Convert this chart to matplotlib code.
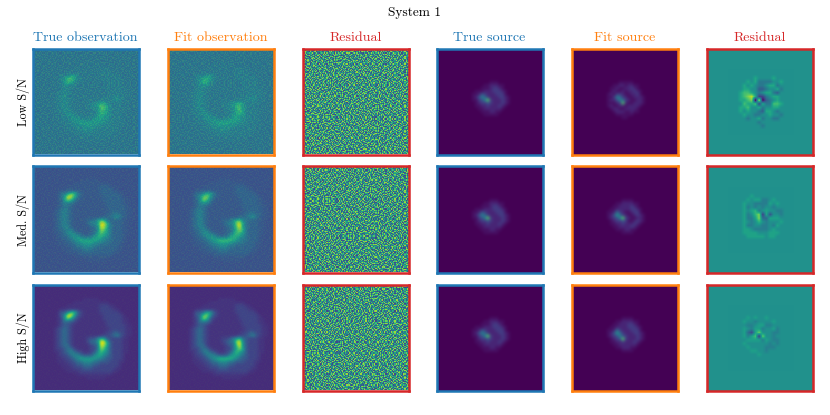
import numpy as np
import matplotlib
matplotlib.use('Agg')
import matplotlib.pyplot as plt
from matplotlib.colors import ListedColormap, PowerNorm

plt.rcParams['font.family'] = ['cmr10', 'DejaVu Serif']
plt.rcParams['axes.formatter.use_mathtext'] = True

COL_TITLES = ['True observation', 'Fit observation', 'Residual', 'True source', 'Fit source', 'Residual']
COL_COLORS = ['tab:blue', 'tab:orange', 'tab:red', 'tab:blue', 'tab:orange', 'tab:red']
ROW_LABELS = ['Low S/N', 'Med. S/N', 'High S/N']

# hand estimated brightness levels, 0-9 (coarse grid over whole panel)
OBS_TRUE = ['00000000000000000000000000000000',
            '00000000000000000000000000000000',
            '00000000000000000000000000000000',
            '00000000000000000000000000000000',
            '00000000000000011111000000000000',
            '00000000000011111111111000000000',
            '00000000001111111111222110000000',
            '00000000111111111111222211000000',
            '00000001335774211111222222100000',
            '00000001359963211111122222210000',
            '00000001258642111111122222211000',
            '00000001243321111111112222211000',
            '00000001233211111111112222221100',
            '00000012343211111111111222221100',
            '00000012343211111111112233221100',
            '00000012343211111111122345321100',
            '00000012343211112335763222211000',
            '00000012343211112445996322211000',
            '00000012344211111234986322211000',
            '00000012234421111224875322211000',
            '00000011234543211235765322211000',
            '00000001223455433356654322210000',
            '00000001122345666665543322210000',
            '00000001112234455544333222110000',
            '00000000111223344433222222100000',
            '00000000011122233322222221100000',
            '00000000001111222222222211000000',
            '00000000000001111111111100000000',
            '00000000000000001111110000000000',
            '00000000000000000000000000000000',
            '00000000000000000000000000000000',
            '00000000000000000000000000000000']
OBS_FIT = ['00000000000000000000000000000000',
           '00000000000000000000000000000000',
           '00000000000000000000000000000000',
           '00000000000000000000000000000000',
           '00000000000000011111000000000000',
           '00000000000011111111111000000000',
           '00000000001111111111222110000000',
           '00000000111111111111222211000000',
           '00000001334664211111222222100000',
           '00000001347863211111122222210000',
           '00000001248742111111122222211000',
           '00000001244431111111112222211000',
           '00000001233211111111112222221100',
           '00000012343211111111111222221100',
           '00000012343211111111112233221100',
           '00000012343211111111122345321100',
           '00000012343211112235674322211000',
           '00000012343211112344895322211000',
           '00000012344211111234795322211000',
           '00000012234421111224686322211000',
           '00000011234543211235765322211000',
           '00000001223455433356654322210000',
           '00000001122345677776543322210000',
           '00000001112234455544333222110000',
           '00000000111223344433222222100000',
           '00000000011122233322222221100000',
           '00000000001111222222222211000000',
           '00000000000001111111111100000000',
           '00000000000000001111110000000000',
           '00000000000000000000000000000000',
           '00000000000000000000000000000000',
           '00000000000000000000000000000000']

# central part of the source panels only, the rest is flat background
SRC_TRUE = ['0000000000000000',
            '0000000011100000',
            '0000001122211000',
            '0000011123321000',
            '0001112223332100',
            '0011243222333100',
            '0012465322233210',
            '0011346932223210',
            '0001233432223210',
            '0001122322232100',
            '0000112222221000',
            '0000011122110000',
            '0000001111100000',
            '0000000000000000',
            '0000000000000000',
            '0000000000000000']
SRC_FIT_LOW = ['0000000000000000',
               '0000001111100000',
               '0000112212211000',
               '0001121122321000',
               '0001211212232100',
               '0012133211223100',
               '0011365321122210',
               '0012246532112210',
               '0011123921122210',
               '0012112212222100',
               '0001221122221000',
               '0000122211211000',
               '0000011111100000',
               '0000000110000000',
               '0000000000000000',
               '0000000000000000']
SRC_FIT_MED = ['0000000000000000',
               '0000000111100000',
               '0000011222211000',
               '0000112222321000',
               '0001122222332100',
               '0011253211233100',
               '0012475321123210',
               '0012346932112210',
               '0001233431123210',
               '0001122322232100',
               '0000112222321000',
               '0000011122110000',
               '0000000111100000',
               '0000000000000000',
               '0000000000000000',
               '0000000000000000']
SRC_FIT_HIGH = ['0000000000000000',
                '0000000111100000',
                '0000011222211000',
                '0000112223321000',
                '0001122223332100',
                '0011253222333100',
                '0012475322233210',
                '0012346432223210',
                '0001234932223210',
                '0001122322232100',
                '0000112222221000',
                '0000011222110000',
                '0000000111100000',
                '0000000000000000',
                '0000000000000000',
                '0000000000000000']

# source residual, 5 is zero
RES_LOW = ['555555555555555555',
           '555555555555555555',
           '555555565555655555',
           '555556564444556555',
           '555565654456645555',
           '555566553345564555',
           '555677654566435555',
           '555678962245665555',
           '555667809034565555',
           '555576672644776555',
           '555667556455665555',
           '555656554366545555',
           '555565544556554555',
           '555554556455445555',
           '555555554555555555',
           '555555555455555555',
           '555555555555555555',
           '555555555555555555']
RES_MED = ['555555555555555555',
           '555555555555555555',
           '555555655555555555',
           '555556566445655555',
           '555565544446565555',
           '555564545455455555',
           '555565674565544555',
           '555564579162554555',
           '555564469336665555',
           '555565457545556555',
           '555564455445465555',
           '555566544445655555',
           '555566665556665555',
           '555556666656655555',
           '555555555555555555',
           '555555555555555555',
           '555555555555555555',
           '555555555555555555']
RES_HIGH = ['555555555555555555',
            '555555555555555555',
            '555555555555555555',
            '555556565565555555',
            '555565545555655555',
            '555554456644555555',
            '555565466455645555',
            '555563169555445555',
            '555564680955455555',
            '555556666465445555',
            '555565555554545555',
            '555556555544455555',
            '555555665545555555',
            '555555556555555555',
            '555555555555555555',
            '555555555555555555',
            '555555555555555555',
            '555555555555555555']
RES_SOURCE = [RES_LOW, RES_MED, RES_HIGH]
RES_SPAN = [10, 13, 15]
SRC_FIT = [SRC_FIT_LOW, SRC_FIT_MED, SRC_FIT_HIGH]

# typed speckle patch standing in for the pixel noise
SPECKLE = ['73915208467132950684271593860427',
           '20684719352806147392058461739025',
           '95137064821593720468139570264813',
           '48260391757041896325740182693057',
           '16593827040738215964382701549638',
           '82047153969265037481596042817360',
           '37519680241849362705168397024591',
           '60823947517302581946270835196472',
           '14796035828596147030952641783209',
           '59302871640417293685814027395168',
           '87140623953960825174306918527043',
           '03658192747281630459167253908416',
           '92476308151804976332580741629357',
           '35810947626137492068943125076894',
           '71269584030625817954714803592160',
           '46093172584973026417625398140725',
           '08754316299146385072931640785231',
           '63128905472750914683208576913048',
           '29541730866392047518467021358697',
           '84607219351085673924159386720413',
           '17369542087426108935703249618570',
           '50928361741693857240386175029486',
           '76213408959208361475942816307152',
           '31486025793574910682157930468279',
           '95740168320861739254601387925016',
           '42057931684319280567378254019763',
           '68391257040756823091946015382874',
           '10825746931482057639182473650928',
           '57962083148903465127530869241736',
           '83176495202967148350416728590341',
           '26409513787350621984279036157602',
           '94738160526148093756805912374480']

IMG_LEFT = [33, 168, 303, 437, 572, 707]
IMG_TOP = [49, 167, 285]
IMG_SIZE = 105


def grid(rows):
    return np.array([[int(c) for c in r] for r in rows], dtype=float)


def speckle_panel(seq):
    # 3x3 patches, each turned/flipped differently so it doesn't look periodic
    tile = grid(SPECKLE)
    blocks = []
    for k, f in seq:
        b = np.rot90(tile, k)
        blocks.append(b[:, ::-1] if f else b)
    return np.block([blocks[:3], blocks[3:6], blocks[6:]])


def part_viridis(p0, p1):
    return ListedColormap(plt.get_cmap('viridis')(np.linspace(p0, p1, 256)))


SEQS = [[(0, 0), (1, 1), (2, 0), (3, 1), (1, 0), (0, 1), (2, 1), (3, 0), (0, 0)],
        [(1, 0), (2, 1), (0, 1), (3, 0), (0, 0), (2, 0), (1, 1), (3, 1), (2, 1)],
        [(2, 0), (0, 1), (3, 1), (1, 1), (3, 0), (0, 0), (1, 0), (2, 1), (3, 1)],
        [(3, 0), (2, 0), (1, 0), (0, 1), (2, 1), (1, 1), (3, 1), (0, 0), (2, 0)],
        [(0, 1), (3, 0), (1, 1), (2, 0), (0, 0), (3, 1), (1, 0), (2, 1), (0, 0)],
        [(1, 1), (0, 0), (3, 0), (2, 1), (1, 0), (3, 1), (0, 1), (2, 0), (1, 0)],
        [(2, 1), (1, 0), (0, 0), (3, 1), (2, 0), (0, 1), (1, 1), (3, 0), (2, 0)],
        [(3, 1), (0, 0), (2, 1), (1, 0), (3, 0), (2, 0), (0, 1), (1, 1), (3, 1)],
        [(0, 0), (2, 1), (1, 0), (3, 0), (0, 1), (1, 1), (2, 0), (3, 1), (0, 1)]]

# viridis position of level 0 and level 9 + speckle opacity, per row
OBS_RANGE = [(0.37, 0.76, 0.22), (0.24, 1.0, 0.11), (0.12, 1.0, 0.04)]
OBS_GAMMA = 1.6
SRC_GAMMA = 1.3
SRC_PEAK = 0.72

fig = plt.figure(figsize=(8.3, 4.15), dpi=100)


def add_panel(row, col):
    ax = fig.add_axes([(IMG_LEFT[col] - 0.5) / 830, 1 - (IMG_TOP[row] + IMG_SIZE + 0.5) / 415,
                       (IMG_SIZE + 1) / 830, (IMG_SIZE + 1) / 415])
    ax.set_xticks([])
    ax.set_yticks([])
    for s in ax.spines.values():
        s.set_color(COL_COLORS[col])
        s.set_linewidth(1.8)
    return ax


def fix_limits(ax):
    ax.set_xlim(0, 1)
    ax.set_ylim(1, 0)


full = (0, 1, 1, 0)
src_box = (0.28, 0.72, 0.72, 0.28)
res_box = (0.2, 0.82, 0.82, 0.2)
viridis = plt.get_cmap('viridis')
for i in range(3):
    p0, p1, a = OBS_RANGE[i]
    for j, img in enumerate([OBS_TRUE, OBS_FIT]):
        ax = add_panel(i, j)
        ax.imshow(grid(img), cmap=part_viridis(p0, p1), norm=PowerNorm(OBS_GAMMA, vmin=0, vmax=9), extent=full,
                  interpolation='bicubic', aspect='auto')
        ax.imshow(speckle_panel(SEQS[i * 2 + j]), cmap='viridis', vmin=-4, vmax=13, extent=full,
                  interpolation='nearest', alpha=a, aspect='auto')
        fix_limits(ax)
    ax = add_panel(i, 2)
    ax.imshow(speckle_panel(SEQS[6 + i]), cmap='viridis', vmin=-3, vmax=11, extent=full,
              interpolation='nearest', aspect='auto')
    fix_limits(ax)

    for j, img in zip([3, 4], [SRC_TRUE, SRC_FIT[i]]):
        ax = add_panel(i, j)
        ax.set_facecolor(viridis(0.0))
        ax.imshow(grid(img), cmap=part_viridis(0, SRC_PEAK), norm=PowerNorm(SRC_GAMMA, vmin=0, vmax=9), extent=src_box,
                  interpolation='bicubic', aspect='auto')
        fix_limits(ax)

    ax = add_panel(i, 5)
    ax.set_facecolor(viridis(0.5))
    ax.imshow(grid(RES_SOURCE[i]), cmap='viridis', vmin=5 - RES_SPAN[i] / 2, vmax=5 + RES_SPAN[i] / 2, extent=res_box,
              interpolation='bilinear', aspect='auto')
    fix_limits(ax)

    fig.text(23 / 830, 1 - (IMG_TOP[i] + IMG_SIZE / 2) / 415, ROW_LABELS[i], rotation=90,
             ha='center', va='center', fontsize=8.7)

for j in range(6):
    fig.text((IMG_LEFT[j] + IMG_SIZE / 2) / 830, 1 - 38 / 415, COL_TITLES[j], color=COL_COLORS[j],
             ha='center', va='center', fontsize=10.1)
fig.text(414 / 830, 1 - 13 / 415, 'System 1', ha='center', va='center', fontsize=9.6)

fig.savefig('out.png', dpi=100)
